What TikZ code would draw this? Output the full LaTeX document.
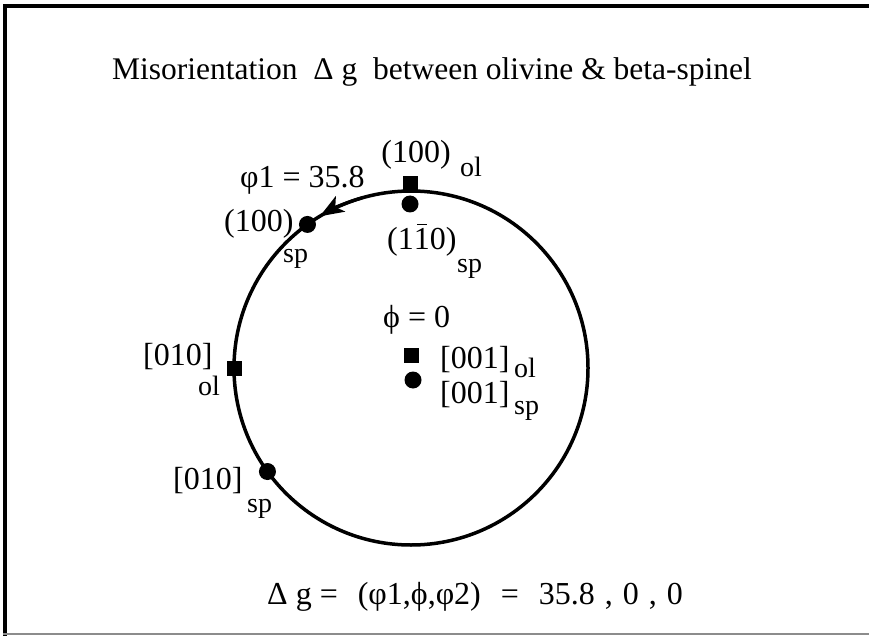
\documentclass[tikz,border=0pt]{standalone}
\usepackage{fontspec}
\setmainfont{Liberation Serif}
\usetikzlibrary{arrows.meta,calc}
\newcommand{\barone}{\makebox[0pt][l]{\raisebox{0.74em}{\hspace{0.1em}\rule{0.32em}{0.055em}}}1}
\begin{document}
\begin{tikzpicture}[x=1pt,y=-1pt,
  lbl/.style={inner sep=0pt,anchor=base west,font=\fontsize{32}{32}\selectfont},
  sub/.style={inner sep=0pt,anchor=base west,font=\fontsize{28}{28}\selectfont},
  sqm/.style={fill=black,minimum size=15pt,inner sep=0pt,draw=none,rectangle},
  dotm/.style={fill=black,minimum size=17pt,inner sep=0pt,draw=none,circle},
  frameline/.style={line width=3.5pt,black}]
\useasboundingbox (0,0) rectangle (869,636);
% frame
\coordinate (tl) at (5,6);
\coordinate (tr) at (869,6);
\coordinate (bl) at (5,636);
\coordinate (bl2) at (3,634);
\coordinate (br) at (869,634);
\draw[frameline] (3,6) -- (tr);
\draw[line width=4.5pt] (tl) -- (bl);
\draw[line width=1.2pt,black!45] (bl2) -- (br);
% title
\node[inner sep=0pt,anchor=base,font=\fontsize{31.5}{31.5}\selectfont] (title) at (432,80)
  {Misorientation\ \ Δ\ g\ \ between olivine \& beta-spinel};
% circle
\coordinate (O) at (411,368);
\draw[line width=3.5pt] (O) circle (177);
\draw[line width=3.2pt,-{Stealth[length=24pt,width=18pt,inset=6pt]}] (O) ++(-106:177) arc (-106:-121:177);
% markers
\node[sqm] (sqtop) at (410,184) {};
\node[dotm] (dottop) at (410,204) {};
\node[dotm] (dot100) at ($(O)+(-125.8:177)$) {};
\node[sqm] (sq010) at (234,368) {};
\node[dotm] (dot010) at ($(O)+(-215.8:177)$) {};
\node[sqm] (sqc) at (411,355) {};
\node[dotm] (dotc) at (413,380) {};
% labels
\node[lbl,anchor=base] (l100ol) at (416,163) {(100)};
\node[sub] (l100olsub) at (460,177) {ol};
\node[lbl] (phi1) at (240,188) {φ1 = 35.8};
\node[lbl] (l100sp) at (224,232) {(100)};
\node[sub] (l100spsub) at (283,262) {sp};
\node[lbl] (l1m10) at (387,249) {(1\barone0)};
\node[sub] (l1m10sub) at (457,272) {sp};
\node[lbl] (phi0) at (383,327) {ϕ = 0};
\node[lbl] (l001ol) at (440,368) {[001]};
\node[sub] (l001olsub) at (514,377) {ol};
\node[lbl] (l001sp) at (440,403) {[001]};
\node[sub] (l001spsub) at (514,414) {sp};
\node[lbl] (l010ol) at (143,365) {[010]};
\node[sub] (l010olsub) at (198,395) {ol};
\node[lbl] (l010sp) at (173,489) {[010]};
\node[sub] (l010spsub) at (247,512) {sp};
\node[lbl] (eq) at (267,604) {Δ g =\hspace{20pt}(φ1,ϕ,φ2)\hspace{20pt}=\hspace{20pt}35.8\hspace{10pt},\hspace{10pt}0\hspace{10pt},\hspace{10pt}0};
\end{tikzpicture}
\end{document}
